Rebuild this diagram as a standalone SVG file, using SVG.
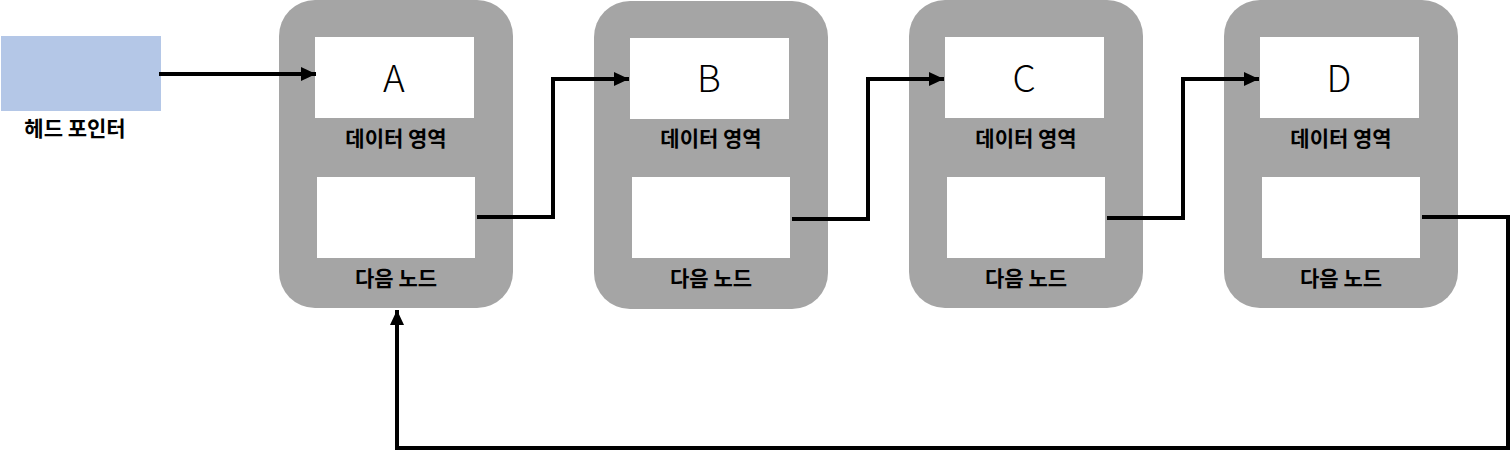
<svg xmlns="http://www.w3.org/2000/svg" width="1512" height="452" viewBox="0 0 1512 452">
<defs>
<style>
.outer{fill:#a5a5a5}
.inner{fill:#ffffff}
.letter{font-family:"Noto Sans CJK KR","Noto Sans",sans-serif;font-size:37px;font-weight:300;fill:#000;text-anchor:middle}
.lbl{font-family:"Noto Sans CJK KR","Noto Sans",sans-serif;font-size:21px;font-weight:bold;fill:#000;text-anchor:middle}
.conn{fill:none;stroke:#000;stroke-width:4}
</style>
<marker id="arr" markerWidth="15" markerHeight="14" refX="15" refY="7" orient="auto" markerUnits="userSpaceOnUse" viewBox="0 0 15 14">
<path d="M0,0 L15,7 L0,14 Z" fill="#000"/>
</marker>
</defs>
<rect width="1512" height="452" fill="#fff"/>
<g id="head">
<rect x="1" y="36" width="160" height="75" fill="#b4c7e7"/>
<text class="lbl" x="75" y="136">헤드 포인터</text>
</g>
<g id="nodeA">
<rect class="outer" x="279" y="0" width="234" height="308" rx="36"/>
<rect class="inner" x="315" y="37" width="159" height="81"/>
<rect class="inner" x="317" y="177" width="158" height="81"/>
<text class="letter" x="394" y="92">A</text>
<text class="lbl" x="396" y="146">데이터 영역</text>
<text class="lbl" x="396" y="286">다음 노드</text>
</g>
<g id="nodeB">
<rect class="outer" x="594" y="1" width="234" height="308" rx="36"/>
<rect class="inner" x="630" y="38" width="159" height="81"/>
<rect class="inner" x="632" y="177" width="158" height="81"/>
<text class="letter" x="709" y="92">B</text>
<text class="lbl" x="711" y="146">데이터 영역</text>
<text class="lbl" x="711" y="286">다음 노드</text>
</g>
<g id="nodeC">
<rect class="outer" x="909" y="0" width="234" height="308" rx="36"/>
<rect class="inner" x="945" y="37" width="159" height="81"/>
<rect class="inner" x="947" y="177" width="158" height="81"/>
<text class="letter" x="1024" y="92">C</text>
<text class="lbl" x="1026" y="146">데이터 영역</text>
<text class="lbl" x="1026" y="286">다음 노드</text>
</g>
<g id="nodeD">
<rect class="outer" x="1224" y="0" width="234" height="308" rx="36"/>
<rect class="inner" x="1260" y="37" width="159" height="81"/>
<rect class="inner" x="1262" y="177" width="158" height="81"/>
<text class="letter" x="1339" y="92">D</text>
<text class="lbl" x="1341" y="146">데이터 영역</text>
<text class="lbl" x="1341" y="286">다음 노드</text>
</g>
<g id="connectors">
<path class="conn" d="M159,74 L316,74" marker-end="url(#arr)"/>
<path class="conn" d="M477,217 L553,217 L553,79 L629,79" marker-end="url(#arr)"/>
<path class="conn" d="M792,219 L868,219 L868,79 L944,79" marker-end="url(#arr)"/>
<path class="conn" d="M1107,218 L1183,218 L1183,79 L1259,79" marker-end="url(#arr)"/>
<path class="conn" d="M1422,217 L1508,217 L1508,448 L397,448 L397,310" marker-end="url(#arr)"/>
</g>
</svg>
